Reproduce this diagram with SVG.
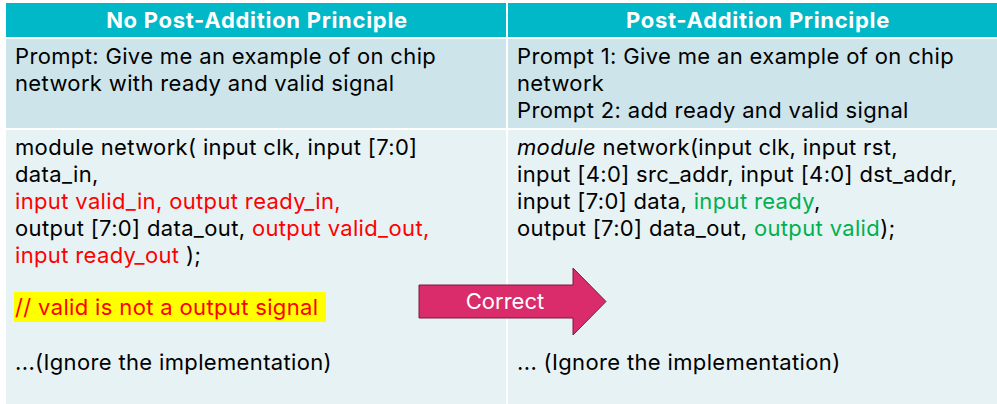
<svg xmlns="http://www.w3.org/2000/svg" width="997" height="404" viewBox="0 0 997 404">
<style>
.t{font-family:Inter,"Noto Sans","Liberation Sans",sans-serif;font-size:22px;letter-spacing:0.35px;fill:#000}
.h{font-family:Inter,"Noto Sans","Liberation Sans",sans-serif;font-size:22px;letter-spacing:0.7px;font-weight:bold;fill:#fff;text-anchor:middle}
.r{fill:#FF0000}
.g{fill:#00B050}
</style>
<rect x="0" y="0" width="997" height="404" fill="#ffffff"/>
<g id="table">
<rect x="6" y="3" width="991" height="34" fill="#00B8C8"/>
<rect x="6" y="39" width="991" height="89" fill="#CDE5EA"/>
<rect x="6" y="130" width="991" height="274" fill="#E7F2F4"/>
<rect x="506" y="3" width="2" height="401" fill="#ffffff"/>
</g>
<g id="header-left"><text class="h" x="257" y="28">No Post-Addition Principle</text></g>
<g id="header-right"><text class="h" x="758" y="28">Post-Addition Principle</text></g>
<g id="prompt-left">
<text class="t"><tspan x="15" y="64">Prompt: Give me an example of on chip</tspan><tspan x="15" y="91">network with ready and valid signal</tspan></text>
</g>
<g id="prompt-right">
<text class="t"><tspan x="517" y="64">Prompt 1: Give me an example of on chip</tspan><tspan x="517" y="91">network</tspan><tspan x="517" y="118">Prompt 2: add ready and valid signal</tspan></text>
</g>
<g id="code-left">
<text class="t"><tspan x="15" y="155">module network( input clk, input [7:0]</tspan><tspan x="15" y="182">data_in,</tspan><tspan x="15" y="209" class="r">input valid_in, output ready_in,</tspan><tspan x="15" y="236">output [7:0] data_out, </tspan><tspan class="r">output valid_out,</tspan><tspan x="15" y="263" class="r">input ready_out </tspan><tspan>);</tspan></text>
<rect x="14" y="292" width="312" height="30" fill="#FFFF00"/>
<text class="t r" x="15" y="315">// valid is not a output signal</text>
<text class="t" x="15" y="370">...(Ignore the implementation)</text>
</g>
<g id="code-right">
<text class="t"><tspan x="517" y="155" font-style="italic">module</tspan><tspan> network(input clk, input rst,</tspan><tspan x="517" y="182">input [4:0] src_addr, input [4:0] dst_addr,</tspan><tspan x="517" y="209">input [7:0] data, </tspan><tspan class="g">input ready</tspan><tspan>,</tspan><tspan x="517" y="236">output [7:0] data_out, </tspan><tspan class="g">output valid</tspan><tspan>);</tspan></text>
<text class="t" x="517" y="370">... (Ignore the implementation)</text>
</g>
<g id="arrow">
<path d="M419,285 H573 V268 L606,301.5 L573,335 V318 H419 Z" fill="#DA2B6A" stroke="#7A1A3C" stroke-width="1"/>
<text x="505" y="309" text-anchor="middle" font-family="Inter,Noto Sans,sans-serif" font-size="22" fill="#fff">Correct</text>
</g>
</svg>
